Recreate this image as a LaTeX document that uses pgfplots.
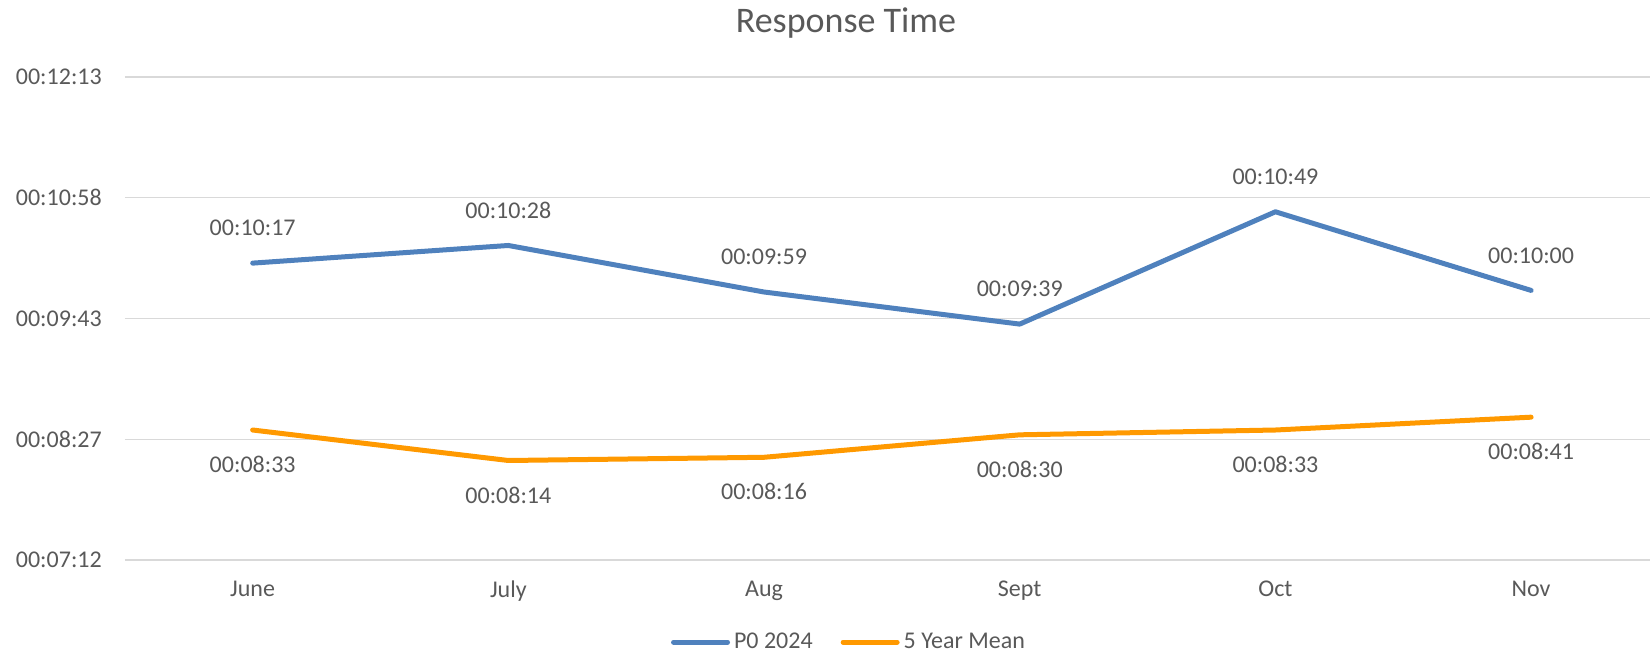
\documentclass[border=0pt]{standalone}
\usepackage{pgfplots}
\pgfplotsset{compat=1.18}
\usepackage{fontspec}
\setmainfont{Carlito}
\definecolor{pblue}{HTML}{4F81BD}
\definecolor{porange}{HTML}{FF9900}
\definecolor{txt}{HTML}{595959}
\definecolor{grid}{HTML}{D9D9D9}
\begin{document}
\begin{tikzpicture}
\useasboundingbox (0,0) rectangle (825pt,328pt);
\begin{axis}[
  at={(62.4pt,48pt)}, anchor=south west,
  scale only axis, width=762.6pt, height=241.5pt,
  xmin=-0.5, xmax=5.465, ymin=432, ymax=733,
  xtick={0,...,5}, xticklabels={June,July,Aug,Sept,Oct,Nov},
  ytick={432,507.25,582.5,657.75,733},
  yticklabels={00:07:12,00:08:27,00:09:43,00:10:58,00:12:13},
  axis line style={draw=none}, major tick length=0pt,
  ymajorgrids, grid style={color=grid, line width=0.7pt},
  tick label style={font=\fontsize{12}{14}\selectfont, text=txt},
  yticklabel style={xshift=-8pt},
  xticklabel style={yshift=-7pt},
  clip=false,
  legend columns=2,
  legend style={at={(axis description cs:0.4755,-0.17)}, anchor=center, draw=none,
    font=\fontsize{12}{14}\selectfont, text=txt, column sep=0pt,
    /tikz/every even column/.append style={column sep=12pt}},
  legend image code/.code={\draw[#1, line cap=round] (0pt,0pt) -- (27pt,0pt);},
  nodes near coords, point meta=explicit symbolic,
  every node near coord/.append style={font=\fontsize{12}{14}\selectfont, text=txt},
]
\addplot[color=pblue, line width=2.5pt, line join=round, line cap=round, mark=none,
  every node near coord/.append style={anchor=south, yshift=9pt}]
  coordinates {(0,617) [00:10:17] (1,628) [00:10:28] (2,599) [00:09:59] (3,579) [00:09:39] (4,649) [00:10:49] (5,600) [00:10:00]};
\addlegendentry{P0 2024}
\addplot[color=porange, line width=2.5pt, line join=round, line cap=round, mark=none,
  every node near coord/.append style={anchor=north, yshift=-8.5pt}]
  coordinates {(0,513) [00:08:33] (1,494) [00:08:14] (2,496) [00:08:16] (3,510) [00:08:30] (4,513) [00:08:33] (5,521) [00:08:41]};
\addlegendentry{5 Year Mean}
\end{axis}
\node[text=txt, font=\fontsize{18}{21}\selectfont] at (423pt,316.5pt) {Response Time};
\end{tikzpicture}
\end{document}
